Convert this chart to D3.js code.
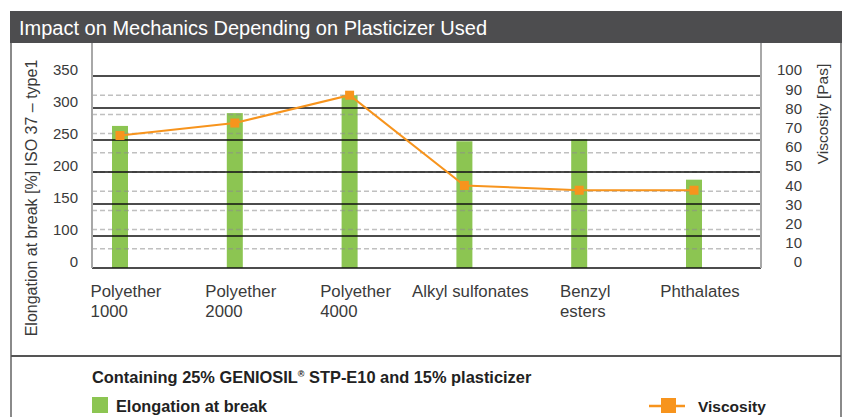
<!DOCTYPE html>
<html>
<head>
<meta charset="utf-8">
<title>Impact on Mechanics Depending on Plasticizer Used</title>
<script src="https://d3js.org/d3.v7.min.js"></script>
<style>
  body { margin: 0; background: #fff; }
  svg { display: block; font-family: "Liberation Sans", Arial, sans-serif; }
</style>
</head>
<body>
<svg class="chart" width="846" height="417"></svg>
<script>

// data
var categories = ["Polyether\n1000", "Polyether\n2000", "Polyether\n4000", "Alkyl sulfonates", "Benzyl\nesters", "Phthalates"];
var elongation = [272, 292, 320, 248, 251, 188];   // [%]
var viscosity = [69, 75.5, 90, 43, 40.5, 40.5];    // [Pas]
var elongTicks = [0, 100, 150, 200, 250, 300, 350];
var viscTicks = [0, 10, 20, 30, 40, 50, 60, 70, 80, 90, 100];

var green = "#8cc552", orange = "#f7941d", textCol = "#3a3a3a";

var plot = {left: 92, right: 761, top: 76, bottom: 268};

var svg = d3.select(".chart");

// header band
svg.append("rect").attr("x", 10).attr("y", 11).attr("width", 832).attr("height", 32).attr("fill", "#4d4d4f");
svg.append("text").attr("x", 19).attr("y", 34.5)
    .attr("fill", "#fff").style("font-size", "20px")
    .text("Impact on Mechanics Depending on Plasticizer Used");

// panel frame
svg.append("line").attr("x1", 11).attr("x2", 11).attr("y1", 43).attr("y2", 417).attr("stroke", "#8a8a8a").attr("stroke-width", 2);
svg.append("line").attr("x1", 841).attr("x2", 841).attr("y1", 43).attr("y2", 417).attr("stroke", "#8a8a8a").attr("stroke-width", 2);
svg.append("line").attr("x1", 11).attr("x2", 841).attr("y1", 356).attr("y2", 356).attr("stroke", "#555").attr("stroke-width", 2);

var x = d3.scalePoint().domain(categories).range([120, 694]);

var yL = d3.scaleLinear()
    .domain(elongTicks)
    .range(elongTicks.map(function(d, i) { return plot.bottom - i * (plot.bottom - plot.top) / (elongTicks.length - 1); }));

var yR = d3.scaleLinear().domain([0, 100]).range([plot.bottom, plot.top]);

// bars
svg.selectAll(".bar")
    .data(elongation)
  .enter().append("rect")
    .attr("class", "bar")
    .attr("x", function(d, i) { return x(categories[i]) - 8; })
    .attr("width", 16)
    .attr("y", function(d) { return yL(d); })
    .attr("height", function(d) { return plot.bottom - yL(d); })
    .attr("fill", green);

// dashed grid (viscosity)
svg.selectAll(".vgrid")
    .data(viscTicks.slice(1, -1))
  .enter().append("line")
    .attr("x1", plot.left).attr("x2", plot.right)
    .attr("y1", function(d) { return yR(d); }).attr("y2", function(d) { return yR(d); })
    .attr("stroke", "#8c8c8c").attr("stroke-opacity", 0.55)
    .attr("stroke-width", 1.5).attr("stroke-dasharray", "5,3");

// solid grid (elongation)
svg.selectAll(".egrid")
    .data(elongTicks)
  .enter().append("line")
    .attr("x1", plot.left).attr("x2", plot.right)
    .attr("y1", function(d) { return yL(d); }).attr("y2", function(d) { return yL(d); })
    .attr("stroke", "#111").attr("stroke-width", 1.3);

// vertical axis lines
[plot.left, plot.right].forEach(function(px) {
  svg.append("line").attr("x1", px).attr("x2", px).attr("y1", 43).attr("y2", plot.bottom)
      .attr("stroke", "#a8a8a8").attr("stroke-width", 2);
});

// left axis labels
var gl = svg.append("g").attr("transform", "translate(" + plot.left + ",0)")
    .call(d3.axisLeft(yL).tickValues(elongTicks).tickSize(0).tickPadding(14));
gl.select(".domain").remove();
gl.selectAll("text").attr("y", -6).attr("fill", textCol).style("font-size", "15px").style("font-family", "inherit");

// right axis labels
var gr = svg.append("g").attr("transform", "translate(" + plot.right + ",0)")
    .call(d3.axisRight(yR).tickValues(viscTicks).tickSize(0));
gr.select(".domain").remove();
gr.selectAll("text").attr("x", 41).attr("y", -6).attr("text-anchor", "end")
    .attr("fill", textCol).style("font-size", "15px").style("font-family", "inherit");

// axis titles
svg.append("text")
    .attr("transform", "translate(37,198) rotate(-90)")
    .attr("text-anchor", "middle").attr("fill", textCol).style("font-size", "16px")
    .text("Elongation at break [%] ISO 37 \u2013 type1");
svg.append("text")
    .attr("transform", "translate(828,114) rotate(-90)")
    .attr("text-anchor", "middle").attr("fill", textCol).style("font-size", "15.5px")
    .text("Viscosity [Pas]");

// category labels (left aligned block, centred under the bar)
categories.forEach(function(c) {
  var t = svg.append("text").attr("fill", textCol).style("font-size", "16.8px");
  c.split("\n").forEach(function(s, j) {
    t.append("tspan").attr("y", 297 + j * 20).text(s);
  });
  var w = 0;
  t.selectAll("tspan").each(function() { w = Math.max(w, this.getComputedTextLength()); });
  t.selectAll("tspan").attr("x", x(c) + 6 - w / 2);
});

// viscosity line
var line = d3.line()
    .x(function(d, i) { return x(categories[i]); })
    .y(function(d) { return yR(d); });

svg.append("path").datum(viscosity)
    .attr("d", line).attr("fill", "none")
    .attr("stroke", orange).attr("stroke-width", 2);

svg.selectAll(".pt")
    .data(viscosity)
  .enter().append("rect")
    .attr("class", "pt")
    .attr("x", function(d, i) { return x(categories[i]) - 4.5; })
    .attr("y", function(d) { return yR(d) - 4.5; })
    .attr("width", 9).attr("height", 9)
    .attr("fill", orange);

// legend
svg.append("text").attr("x", 92).attr("y", 383).attr("fill", "#222")
    .style("font-size", "16.4px").style("font-weight", "600")
    .html('Containing 25% GENIOSIL<tspan dy="-6" style="font-size:9px">\u00ae</tspan><tspan dy="6"> STP-E10 and 15% plasticizer</tspan>');

svg.append("rect").attr("x", 92).attr("y", 397).attr("width", 16).attr("height", 16).attr("fill", green);
svg.append("text").attr("x", 116).attr("y", 412).attr("fill", "#222")
    .style("font-size", "16.3px").style("font-weight", "600").text("Elongation at break");

svg.append("line").attr("x1", 649).attr("x2", 685).attr("y1", 406).attr("y2", 406)
    .attr("stroke", orange).attr("stroke-width", 2.5);
svg.append("rect").attr("x", 661).attr("y", 398).attr("width", 15).attr("height", 15).attr("fill", orange);
svg.append("text").attr("x", 698).attr("y", 412).attr("fill", "#222")
    .style("font-size", "15.5px").style("font-weight", "600").text("Viscosity");

</script>
</body>
</html>
